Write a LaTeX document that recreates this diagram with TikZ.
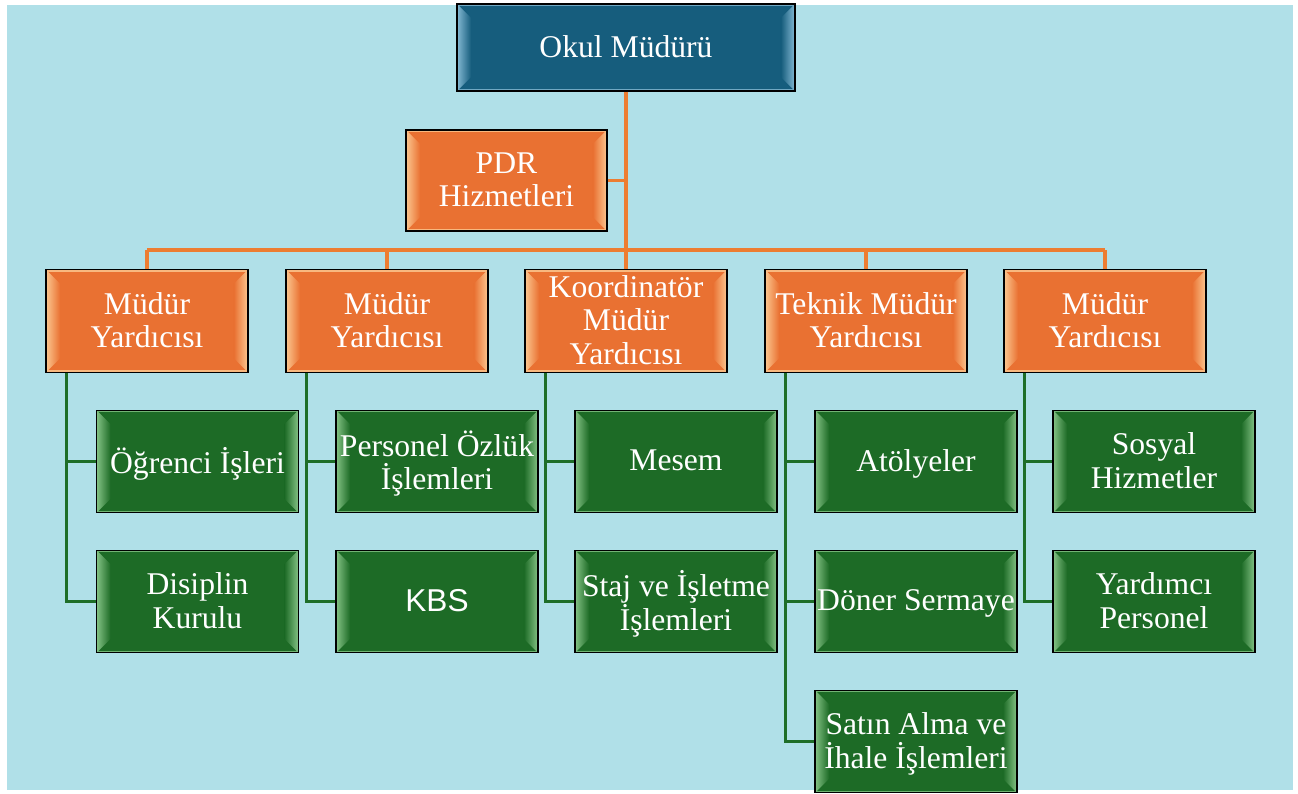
\documentclass[tikz,border=0pt]{standalone}
\usepackage{fontspec}
\setmainfont{Liberation Serif}
\newfontfamily\kbsfont{Liberation Sans}
\usetikzlibrary{
  calc
}
\definecolor{bgcyan}{RGB}{176,224,232}
\definecolor{headblue}{RGB}{22,93,125}
\definecolor{headlight}{RGB}{150,200,225}
\definecolor{mgrorange}{RGB}{233,113,50}
\definecolor{mgrlight}{RGB}{255,214,160}
\definecolor{unitgreen}{RGB}{29,107,38}
\definecolor{unitlight}{RGB}{150,210,150}
\definecolor{lineorange}{RGB}{237,125,49}
\definecolor{linegreen}{RGB}{30,110,40}

\begin{document}
\begin{tikzpicture}[x=0.02cm, y=-0.02cm,
    box/.style={draw=black, line width=0.8pt, align=center, text=white, inner sep=1pt,
      minimum width=4.04cm, minimum height=2.05cm, text depth=0.25ex, font=\fontsize{18}{19}\selectfont},
    bevel/.style 2 args={fill=#1, path picture={
      \coordinate (bnw) at (path picture bounding box.north west);
      \coordinate (bse) at (path picture bounding box.south east);
      \coordinate (bsw) at (bnw |- bse);
      \coordinate (bne) at (bse |- bnw);
      \draw[#2!70!#1, line width=2.2pt] (bnw) rectangle (bse);
      \shade[left color=#2!85!#1, right color=#1] (bnw) -- ([shift={(14,14)}]bnw) -- ([shift={(14,-14)}]bsw) -- (bsw) -- cycle;
      \shade[left color=#1, right color=#2!85!#1] (bne) -- ([shift={(-14,14)}]bne) -- ([shift={(-14,-14)}]bse) -- (bse) -- cycle;
    }},
    headbox/.style={box, bevel={headblue}{headlight}, minimum width=6.76cm, minimum height=1.74cm},
    mgrbox/.style={box, bevel={mgrorange}{mgrlight}},
    unitbox/.style={box, bevel={unitgreen}{unitlight}},
    orangeline/.style={draw=lineorange, line width=2pt},
    greenline/.style={draw=linegreen, line width=1.9pt}]
            \useasboundingbox (0,0) rectangle (1298,794);
            \fill[white] (0,0) rectangle (1298,794);
            \fill[bgcyan] (7,5) rectangle (1293,790);

            \node[headbox] (okul) at (626,47.5) {Okul Müdürü};
            \node[mgrbox, minimum width=4.02cm, minimum height=2.02cm] (pdr) at (506.5,180.5) {PDR\\Hizmetleri};

            \node[mgrbox] (m1) at (147,321) {Müdür\\Yardıcısı};
            \node[mgrbox] (m2) at (387,321) {Müdür\\Yardıcısı};
            \node[mgrbox] (m3) at (626,321) {Koordinatör\\Müdür\\Yardıcısı};
            \node[mgrbox] (m4) at (866,321) {Teknik Müdür\\Yardıcısı};
            \node[mgrbox] (m5) at (1105,321) {Müdür\\Yardıcısı};

            \node[unitbox] (g11) at (197.5,461.5) {Öğrenci İşleri};
            \node[unitbox] (g12) at (197.5,601.5) {Disiplin\\Kurulu};
            \node[unitbox] (g21) at (437,461.5) {Personel Özlük\\İşlemleri};
            \node[unitbox] (g22) at (437,601.5) {\kbsfont KBS};
            \node[unitbox] (g31) at (676,461.5) {Mesem};
            \node[unitbox] (g32) at (676,601.5) {Staj ve İşletme\\İşlemleri};
            \node[unitbox] (g41) at (916,461.5) {Atölyeler};
            \node[unitbox] (g42) at (916,601.5) {Döner Sermaye};
            \node[unitbox] (g43) at (916,741.5) {Satın Alma ve\\İhale İşlemleri};
            \node[unitbox] (g51) at (1154,461.5) {Sosyal\\Hizmetler};
            \node[unitbox] (g52) at (1154,601.5) {Yardımcı\\Personel};

            \coordinate (bus) at (626,250);
            \draw[orangeline] (okul.south) -- (bus);
            \draw[orangeline] (pdr.east) -- (pdr.east -| okul.south);
            \draw[orangeline] (bus -| m1.north) -- (bus -| m5.north);
            \foreach \i in {1,...,5}
              \draw[orangeline] (bus -| m\i.north) -- (m\i.north);

            \foreach \i in {1,...,5} {
              \draw[greenline] ([xshift=0.42cm]m\i.south west) |- (g\i1.west);
              \draw[greenline] ([xshift=0.42cm]m\i.south west) |- (g\i2.west);
            }
            \draw[greenline] ([xshift=0.42cm]m4.south west) |- (g43.west);
        \end{tikzpicture}
\end{document}
